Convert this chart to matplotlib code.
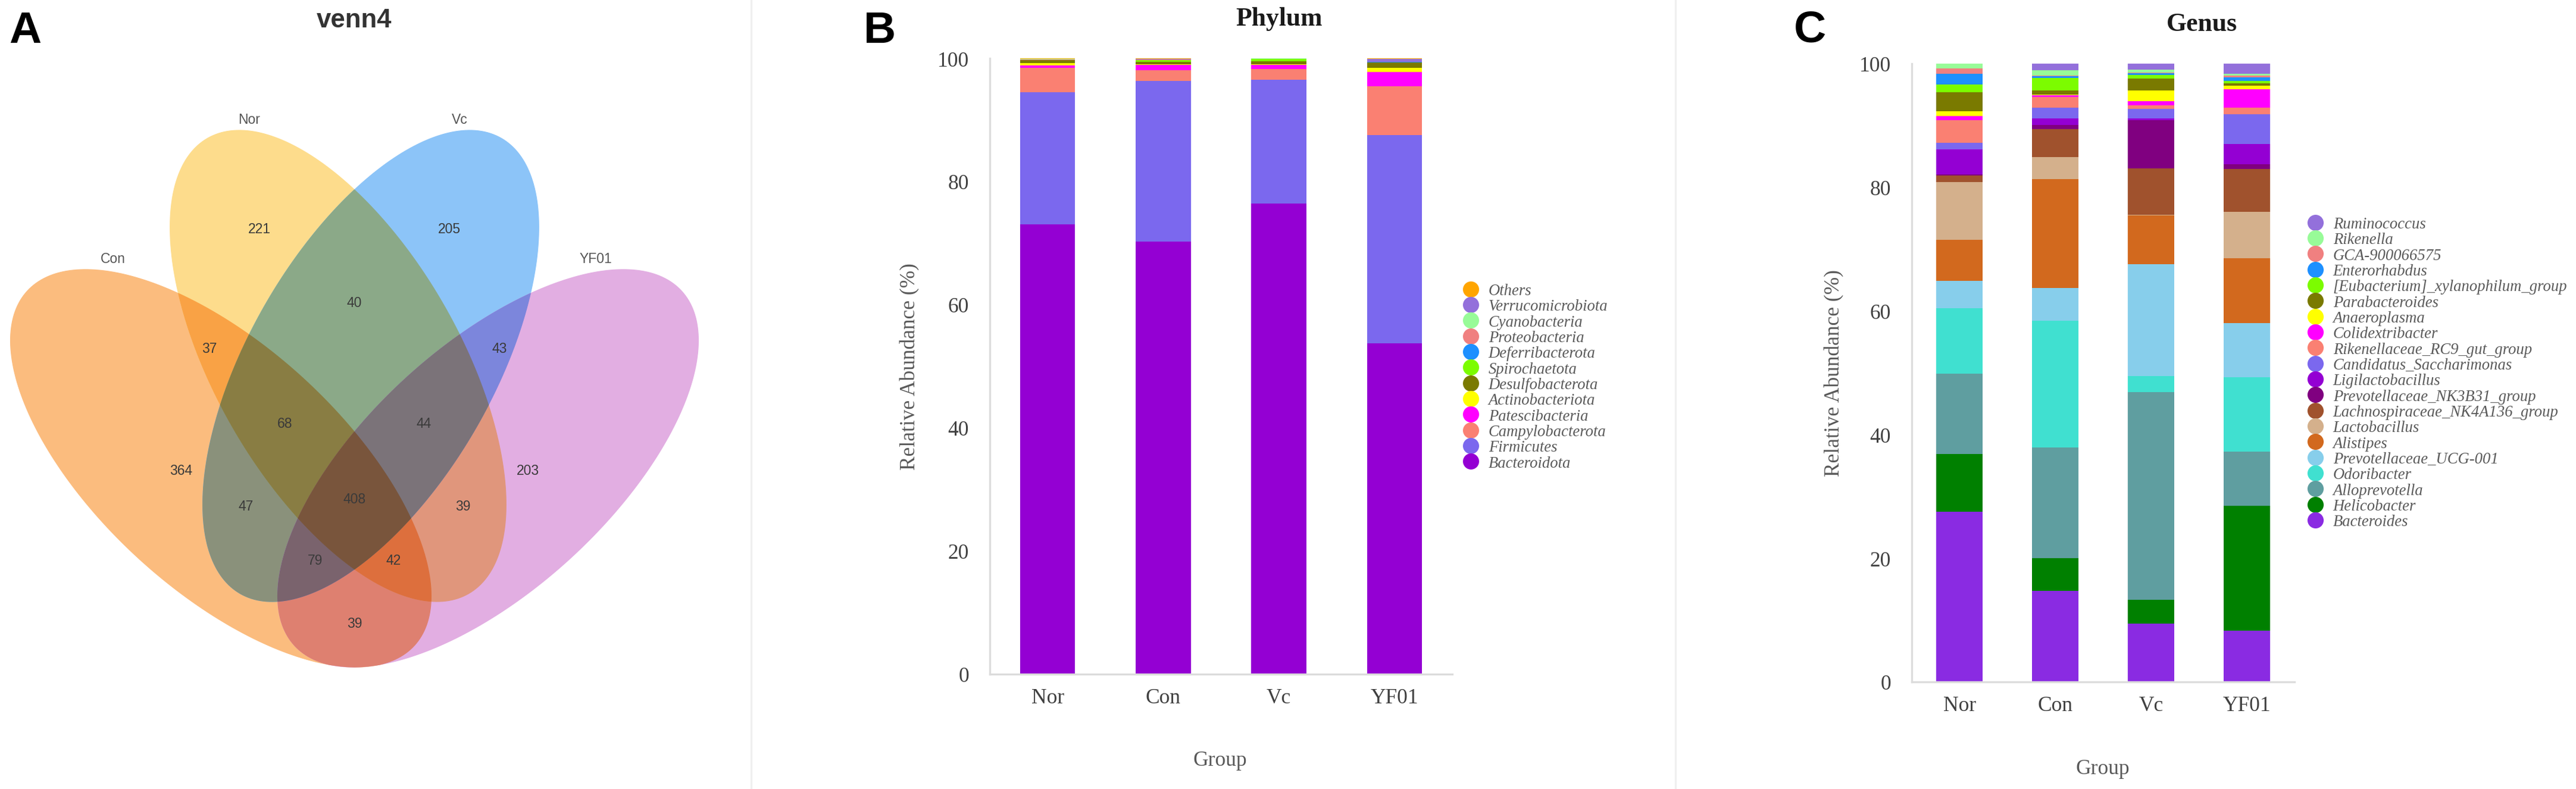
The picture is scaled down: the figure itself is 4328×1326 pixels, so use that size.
import numpy as np
import matplotlib
matplotlib.use("Agg")
import matplotlib.pyplot as plt
from matplotlib.patches import Polygon
from matplotlib.lines import Line2D
from matplotlib.font_manager import FontProperties
from itertools import combinations

# ---------------- data ----------------
groups = ["Nor", "Con", "Vc", "YF01"]

# Phylum (stack order bottom -> top)
phylum_names = ["Bacteroidota", "Firmicutes", "Campylobacterota", "Patescibacteria",
                "Actinobacteriota", "Desulfobacterota", "Spirochaetota", "Deferribacterota",
                "Proteobacteria", "Cyanobacteria", "Verrucomicrobiota", "Others"]
phylum_colors = ["#9400D3", "#7B68EE", "#FA8072", "#FF00FF", "#FFFF00", "#7A7A00",
                 "#7CFC00", "#1E90FF", "#F08080", "#98FB98", "#9370DB", "#FFA500"]
phylum_nor = [73.0, 21.5, 4.0, 0.30, 0.40, 0.50, 0.02, 0.02, 0.10, 0.03, 0.03, 0.10]
phylum_con = [70.2, 26.1, 1.8, 0.80, 0.10, 0.40, 0.30, 0.02, 0.05, 0.08, 0.02, 0.13]
phylum_vc = [76.4, 20.1, 1.75, 0.70, 0.05, 0.50, 0.40, 0.02, 0.02, 0.03, 0.02, 0.01]
phylum_yf01 = [53.7, 33.8, 8.0, 2.30, 0.70, 0.80, 0.05, 0.03, 0.04, 0.03, 0.50, 0.05]

# Genus (stack order bottom -> top)
genus_names = ["Bacteroides", "Helicobacter", "Alloprevotella", "Odoribacter",
               "Prevotellaceae_UCG-001", "Alistipes", "Lactobacillus",
               "Lachnospiraceae_NK4A136_group", "Prevotellaceae_NK3B31_group",
               "Ligilactobacillus", "Candidatus_Saccharimonas", "Rikenellaceae_RC9_gut_group",
               "Colidextribacter", "Anaeroplasma", "Parabacteroides",
               "[Eubacterium]_xylanophilum_group", "Enterorhabdus", "GCA-900066575",
               "Rikenella", "Ruminococcus"]
genus_colors = ["#8A2BE2", "#008000", "#5F9EA0", "#40E0D0", "#87CEEB", "#D2691E",
                "#D4B08C", "#A0522D", "#800080", "#9400D3", "#7B68EE", "#FA8072",
                "#FF00FF", "#FFFF00", "#7A7A00", "#7CFC00", "#1E90FF", "#F08080",
                "#98FB98", "#9370DB"]
genus_nor = [27.5, 9.4, 13.0, 10.5, 4.5, 6.6, 9.3, 1.1, 0.2, 4.0,
             1.1, 3.7, 0.6, 0.8, 3.1, 1.2, 1.8, 0.8, 0.8, 0.0]
genus_con = [14.7, 5.3, 17.9, 20.5, 5.3, 17.6, 3.6, 4.5, 0.7, 1.0,
             1.8, 1.7, 0.3, 0.1, 0.7, 2.0, 0.3, 0.1, 0.8, 1.1]
genus_vc = [9.4, 3.9, 33.6, 2.6, 18.1, 7.9, 0.1, 7.5, 7.8, 0.2,
            1.6, 0.6, 0.6, 1.8, 1.9, 0.6, 0.3, 0.1, 0.4, 1.0]
genus_yf01 = [8.3, 20.2, 8.7, 12.1, 8.7, 10.5, 7.5, 7.0, 0.7, 3.3,
              4.8, 1.1, 3.0, 0.5, 0.4, 0.4, 0.6, 0.3, 0.3, 1.6]

# Venn
venn_sets = ["Con", "Nor", "Vc", "YF01"]
venn_set_colors = ["#FBBC7E", "#FDDC8C", "#8CC4F8", "#E2AEE2"]
venn_regions = ["Con", "Nor", "Vc", "YF01", "Nor&Vc", "Con&Nor", "Vc&YF01",
                "Con&Nor&Vc", "Nor&Vc&YF01", "Con&Nor&Vc&YF01", "Con&Vc", "Nor&YF01",
                "Con&Vc&YF01", "Con&Nor&YF01", "Con&YF01"]
venn_counts = [364, 221, 205, 203, 40, 37, 43, 68, 44, 408, 47, 39, 79, 42, 39]

# ---------------- figure ----------------
W, H, DPI = 4328, 1327, 300
fig = plt.figure(figsize=(W / DPI, H / DPI), dpi=DPI)
fig.patch.set_facecolor("white")

def fx(px):
    return px / W

def fy(py):
    return 1 - py / H

# faint separators between pasted panels
for xs in (1262, 2815):
    fig.add_artist(Line2D([fx(xs), fx(xs)], [0, 1], transform=fig.transFigure,
                          color="#f0f0f0", lw=0.8))

# panel letters
for lab, (px, py) in zip(["A", "B", "C"], [(42, 53), (1478, 52), (3041, 51)]):
    fig.text(fx(px), fy(py), lab, fontsize=18, fontweight="bold",
             family="Liberation Sans", ha="center", va="center", color="black")

# ---------------- Venn (panel A) ----------------
axv = fig.add_axes([0, 0, fx(1300), 1])
axv.set_xlim(0, 1300)
axv.set_ylim(H, 0)
axv.axis("off")

ell_geom = {"Con": (371, 788, 42.5), "Nor": (568, 616, 60.2),
            "Vc": (623, 616, -60.2), "YF01": (820, 788, -42.5)}
ell_a, ell_b = 441, 205

def ellipse_poly(cx, cy, a, b, th, n=260):
    t = np.linspace(0, 2 * np.pi, n, endpoint=False)
    r = np.radians(th)
    x = cx + a * np.cos(t) * np.cos(r) - b * np.sin(t) * np.sin(r)
    y = cy + a * np.cos(t) * np.sin(r) + b * np.sin(t) * np.cos(r)
    return [tuple(p) for p in np.column_stack([x, y])]

def signed_area(poly):
    p = np.array(poly)
    return 0.5 * np.sum(p[:, 0] * np.roll(p[:, 1], -1) - np.roll(p[:, 0], -1) * p[:, 1])

def clip(subject, clipper):
    s = 1 if signed_area(clipper) > 0 else -1
    out = subject
    n = len(clipper)
    for i in range(n):
        if not out:
            break
        ax_, ay_ = clipper[i]
        bx_, by_ = clipper[(i + 1) % n]
        ex, ey = bx_ - ax_, by_ - ay_

        def side(p):
            return s * (ex * (p[1] - ay_) - ey * (p[0] - ax_))

        def inter(p, q):
            sp, sq = side(p), side(q)
            t = sp / (sp - sq)
            return (p[0] + t * (q[0] - p[0]), p[1] + t * (q[1] - p[1]))

        inp = out
        out = []
        prev = inp[-1]
        for cur in inp:
            if side(cur) >= 0:
                if side(prev) < 0:
                    out.append(inter(prev, cur))
                out.append(cur)
            elif side(prev) >= 0:
                out.append(inter(prev, cur))
            prev = cur
    return out

polys = {k: ellipse_poly(*ell_geom[k][:2], ell_a, ell_b, ell_geom[k][2]) for k in venn_sets}
rgb = {k: np.array(matplotlib.colors.to_rgb(c)) for k, c in zip(venn_sets, venn_set_colors)}

# overlapping areas coloured by multiplying the set colours
for size in range(1, 5):
    for combo in combinations(venn_sets, size):
        poly = polys[combo[0]]
        for other in combo[1:]:
            poly = clip(poly, polys[other])
        if len(poly) < 3:
            continue
        col = np.ones(3)
        for k in combo:
            col = col * rgb[k]
        axv.add_patch(Polygon(poly, closed=True, facecolor=col, edgecolor=col,
                              lw=0.3, zorder=size))

region_pos = {"Nor": (436, 385), "Vc": (755, 385), "Con": (304, 792), "YF01": (887, 792),
              "Nor&Vc": (595.5, 510), "Con&Nor": (352, 587), "Vc&YF01": (839, 587),
              "Con&Nor&Vc": (479, 713), "Nor&Vc&YF01": (712, 713),
              "Con&Nor&Vc&YF01": (595.5, 840), "Con&Vc": (413, 852), "Nor&YF01": (778, 852),
              "Con&Vc&YF01": (530, 943), "Con&Nor&YF01": (661, 943), "Con&YF01": (595.5, 1049)}
for reg, cnt in zip(venn_regions, venn_counts):
    x, y = region_pos[reg]
    axv.text(x, y, str(cnt), fontsize=5.5, family="Liberation Sans", color="#3a3a3a",
             ha="center", va="center", zorder=10)

set_label_pos = {"Nor": (419, 202), "Vc": (772, 202), "Con": (190, 435), "YF01": (1001, 435)}
for k in venn_sets:
    x, y = set_label_pos[k]
    axv.text(x, y, k, fontsize=5.5, family="Liberation Sans", color="#555555",
             ha="center", va="center")
axv.text(595.5, 34, "venn4", fontsize=10.5, fontweight="bold", family="Liberation Sans",
         color="#333333", ha="center", va="center")

# ---------------- stacked bars ----------------
serif = "Liberation Serif"
leg_font = FontProperties(family=serif, style="italic", size=6.4)

def stacked(rect, names, colors, series, title, title_xy, leg_anchor, width):
    ax = fig.add_axes(rect)
    x = np.arange(len(groups))
    data = np.array(series)  # groups x categories
    bottom = np.zeros(len(groups))
    for j, (nm, c) in enumerate(zip(names, colors)):
        ax.bar(x, data[:, j], width=width, bottom=bottom, color=c, linewidth=0, label=nm)
        bottom += data[:, j]
    ax.set_xlim(-0.5, 3.5)
    ax.set_ylim(0, 100)
    ax.set_yticks(np.arange(0, 101, 20))
    ax.set_xticks(x)
    ax.set_xticklabels(groups)
    for sp in ["top", "right"]:
        ax.spines[sp].set_visible(False)
    for sp in ["left", "bottom"]:
        ax.spines[sp].set_color("#dcdcdc")
        ax.spines[sp].set_linewidth(0.8)
    ax.tick_params(axis="both", length=0, labelsize=8.5, labelcolor="#404040")
    ax.tick_params(axis="y", pad=8.4)
    ax.tick_params(axis="x", pad=5.5)
    for lab in ax.get_xticklabels() + ax.get_yticklabels():
        lab.set_family(serif)
    ax.set_ylabel("Relative Abundance (%)", family=serif, fontsize=8.5, color="#595959")
    ax.set_xlabel("Group", family=serif, fontsize=8.5, color="#595959")
    ax.yaxis.label.set_va("center")
    ax.xaxis.label.set_va("center")
    fig.text(title_xy[0], title_xy[1], title, family=serif, fontweight="bold",
             fontsize=10.5, color="#1a1a1a", ha="center", va="center")
    handles = [Line2D([], [], marker="o", linestyle="", markersize=6.5,
                      markerfacecolor=c, markeredgewidth=0) for c in colors[::-1]]
    leg = ax.legend(handles, names[::-1], loc="upper left", bbox_to_anchor=leg_anchor,
                    bbox_transform=fig.transFigure, frameon=False, prop=leg_font,
                    handlelength=1.0, handletextpad=0.6, labelspacing=0.05,
                    borderpad=0, borderaxespad=0)
    for t in leg.get_texts():
        t.set_color("#5a5a5a")
    return ax

# Phylum axes: x 1663..2440, y 99..1134
axp = stacked([fx(1663), fy(1134), fx(2440) - fx(1663), (1134 - 99) / H],
              phylum_names, phylum_colors,
              [phylum_nor, phylum_con, phylum_vc, phylum_yf01],
              "Phylum", (fx(2149), fy(32)), (fx(2458), fy(477)), 0.475)
axp.yaxis.set_label_coords(-0.1725, 0.5)
axp.xaxis.set_label_coords(0.498, -0.14)

# Genus axes: x 3212..3855, y 108..1147
axg = stacked([fx(3212), fy(1147), fx(3855) - fx(3212), (1147 - 108) / H],
              genus_names, genus_colors,
              [genus_nor, genus_con, genus_vc, genus_yf01],
              "Genus", (fx(3699), fy(41)), (fx(3877), fy(365)), 0.485)
axg.yaxis.set_label_coords(-0.202, 0.5)
axg.xaxis.set_label_coords(0.499, -0.14)

fig.savefig("out.png", dpi=DPI, facecolor="white")
